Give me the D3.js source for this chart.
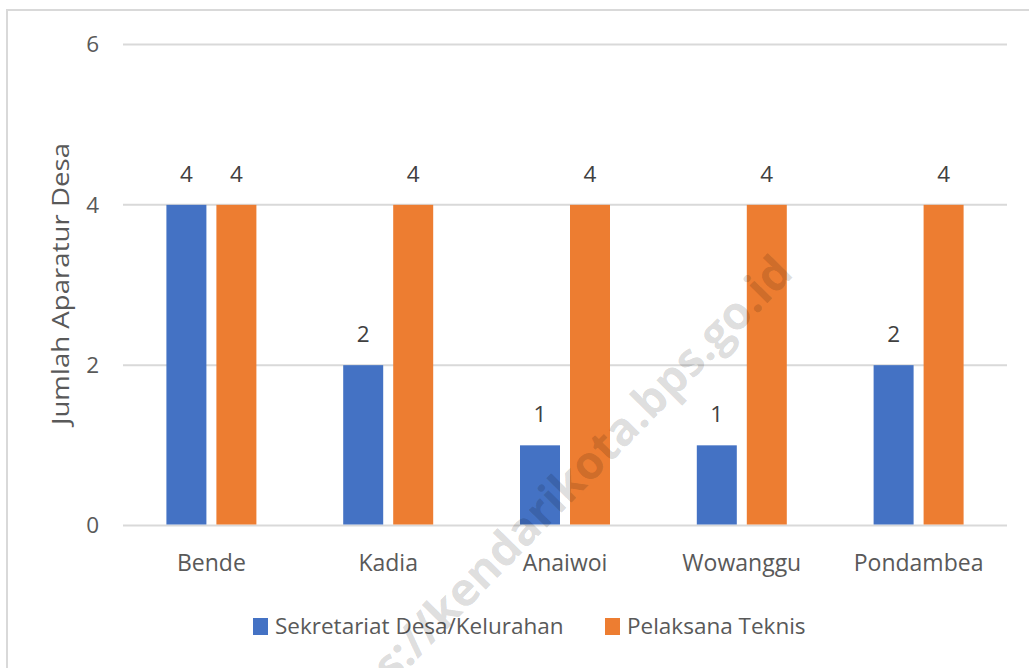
<!DOCTYPE html>
<html>
<head>
<meta charset="utf-8">
<script src="https://cdn.jsdelivr.net/npm/d3@7"></script>
<style>
  html, body { margin: 0; padding: 0; background: #fff; }
  svg { display: block; }
  text { font-family: "Open Sans", "Noto Sans", sans-serif; }
</style>
</head>
<body>
<svg id="chart" width="1029" height="668"></svg>
<script>
const categories = ["Bende", "Kadia", "Anaiwoi", "Wowanggu", "Pondambea"];
const seriesNames = ["Sekretariat Desa/Kelurahan", "Pelaksana Teknis"];
const sekretariat = [4, 2, 1, 1, 2];
const pelaksana = [4, 4, 4, 4, 4];
const yTicks = [0, 2, 4, 6];
const colors = ["#4472C4", "#ED7D31"];
const yTitle = "Jumlah Aparatur Desa";
const watermark = "https://kendarikota.bps.go.id";

const seriesValues = [sekretariat, pelaksana];
const svg = d3.select("#chart");

// border
svg.append("rect").attr("x", 7).attr("y", 10).attr("width", 1100).attr("height", 700)
  .attr("fill", "none").attr("stroke", "#d9d9d9").attr("stroke-width", 2);

const left = 123, right = 1007;
const y = d3.scaleLinear().domain([0, 6]).range([525.5, 44.5]);
const x0 = d3.scaleBand().domain(categories).range([left, right]).padding(0);
const bw = x0.bandwidth();
const x1 = d3.scaleBand().domain(seriesNames).range([bw * 0.2455, bw * 0.7545]).paddingInner(0.2).paddingOuter(0);

// gridlines
svg.append("g").selectAll("line").data(yTicks).join("line")
  .attr("x1", left).attr("x2", right)
  .attr("y1", d => y(d)).attr("y2", d => y(d))
  .attr("stroke", "#d9d9d9").attr("stroke-width", 2);

// y tick labels
svg.append("g").selectAll("text").data(yTicks).join("text")
  .attr("x", 99).attr("y", d => y(d)).attr("dy", "0.35em")
  .attr("text-anchor", "end").attr("font-size", 22.5).attr("fill", "#595959")
  .text(d => d);

// y title
svg.append("text").attr("transform", "translate(69,284) rotate(-90)")
  .attr("text-anchor", "middle").attr("font-size", 24).attr("fill", "#595959")
  .attr("textLength", 282).attr("lengthAdjust", "spacingAndGlyphs")
  .text(yTitle);

// bars
const data = [];
categories.forEach((c, i) => seriesNames.forEach((s, j) => data.push({ c, s, j, v: seriesValues[j][i] })));

svg.append("g").selectAll("rect").data(data).join("rect")
  .attr("x", d => x0(d.c) + x1(d.s))
  .attr("width", x1.bandwidth())
  .attr("y", d => y(d.v))
  .attr("height", d => y(0) - 1 - y(d.v))
  .attr("fill", d => colors[d.j]);

// data labels
svg.append("g").selectAll("text").data(data).join("text")
  .attr("x", d => x0(d.c) + x1(d.s) + x1.bandwidth() / 2)
  .attr("y", d => y(d.v) - 23)
  .attr("text-anchor", "middle").attr("font-size", 22.5).attr("fill", "#404040")
  .text(d => d.v);

// category labels
svg.append("g").selectAll("text").data(categories).join("text")
  .attr("x", d => x0(d) + bw / 2).attr("y", 571)
  .attr("text-anchor", "middle").attr("font-size", 23).attr("fill", "#595959")
  .text(d => d);

// legend
const legendX = [253, 605];
const lg = svg.append("g");
seriesNames.forEach((s, j) => {
  lg.append("rect").attr("x", legendX[j]).attr("y", 618).attr("width", 15).attr("height", 17).attr("fill", colors[j]);
  lg.append("text").attr("x", legendX[j] + 22).attr("y", 634)
    .attr("font-size", 22.5).attr("fill", "#595959").text(s);
});

// watermark
svg.append("text").attr("transform", "translate(795,275) rotate(-45.5)")
  .attr("text-anchor", "end").attr("font-size", 46).attr("font-weight", "bold")
  .attr("font-family", "Liberation Sans, Arial, sans-serif")
  .attr("fill", "rgba(0,0,0,0.15)").text(watermark);
</script>
</body>
</html>
